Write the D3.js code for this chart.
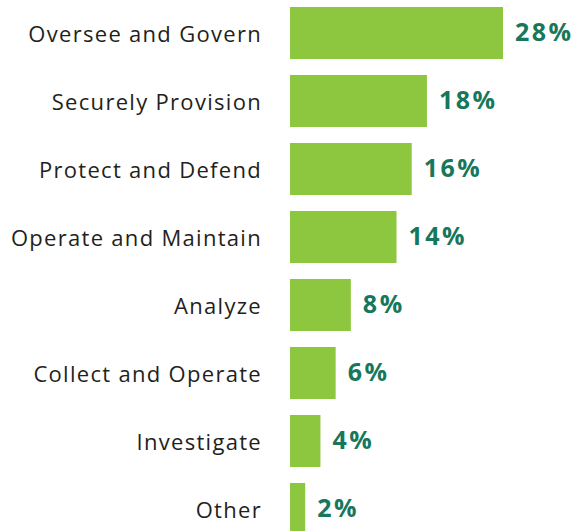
<!DOCTYPE html>
<html>
<head>
<meta charset="utf-8">
<script src="https://cdn.jsdelivr.net/npm/d3@7"></script>
<style>
  body { margin: 0; background: #fff; }
  svg { display: block; }
</style>
</head>
<body>
<div id="chart"></div>
<script>
// DATA
const categories = ["Oversee and Govern", "Securely Provision", "Protect and Defend",
    "Operate and Maintain", "Analyze", "Collect and Operate", "Investigate", "Other"];
const values = [28, 18, 16, 14, 8, 6, 4, 2];

const W = 577, H = 531;

const svg = d3.select("#chart")
    .append("svg")
    .attr("width", W)
    .attr("height", H);

// scales
const x = d3.scaleLinear()
    .domain([0, 28])
    .range([290, 503]);

const y = d3.scaleBand()
    .domain(categories)
    .range([-1, 543])
    .paddingInner(0.235)
    .paddingOuter(0.1175);

const data = categories.map((c, i) => ({ cat: c, val: values[i] }));

// bars
svg.selectAll("rect.bar")
    .data(data)
    .join("rect")
    .attr("class", "bar")
    .attr("x", x(0))
    .attr("y", d => y(d.cat))
    .attr("width", d => x(d.val) - x(0))
    .attr("height", y.bandwidth())
    .attr("fill", "#8dc63f");

// category labels
svg.selectAll("text.cat")
    .data(data)
    .join("text")
    .attr("class", "cat")
    .attr("x", x(0) - 28)
    .attr("y", d => y(d.cat) + y.bandwidth() / 2 + 9)
    .attr("text-anchor", "end")
    .style("font-family", "'Open Sans', sans-serif")
    .style("font-size", "22px")
    .style("letter-spacing", "1.3px")
    .style("fill", "#231f20")
    .text(d => d.cat);

// value labels
svg.selectAll("text.val")
    .data(data)
    .join("text")
    .attr("class", "val")
    .attr("x", d => x(d.val) + 12)
    .attr("y", d => y(d.cat) + y.bandwidth() / 2 + 8)
    .style("font-family", "'Open Sans', sans-serif")
    .style("font-weight", "700")
    .style("font-size", "25px")
    .style("letter-spacing", "2.5px")
    .style("fill", "#17775a")
    .text(d => d.val + "%");
</script>
</body>
</html>
